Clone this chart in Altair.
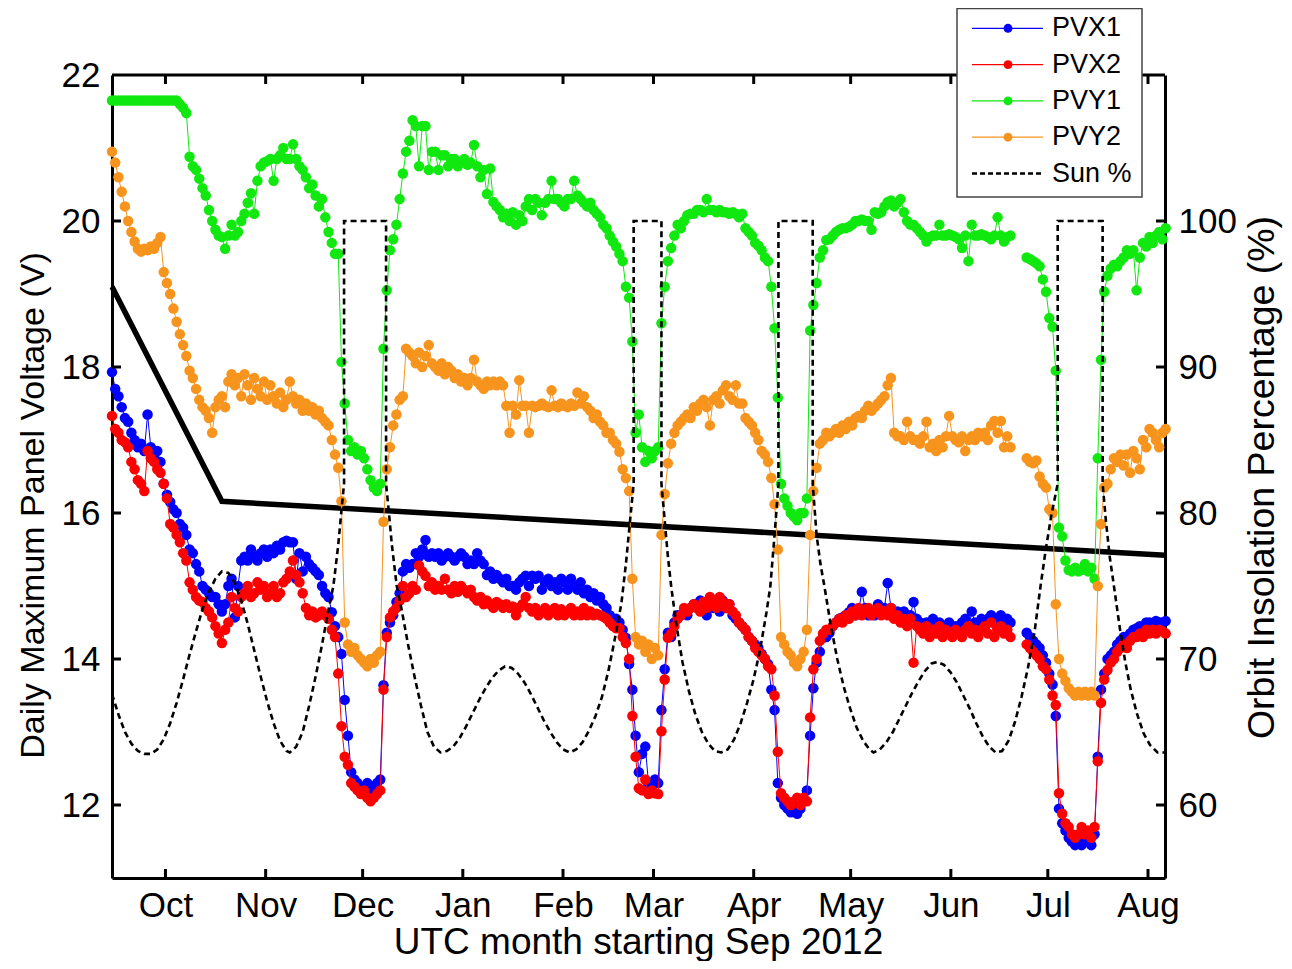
import altair as alt
import pandas as pd
import json

W, H = 1053, 803
FONT = "Liberation Sans"

# ---------------- data ----------------
START = "2012-09-14T11:00:00Z"          # left edge of the time axis (day 0)
END_DAY = 325.8                          # right edge (in days from START)
DAY_MS = 86400000

month_labels = ["Oct", "Nov", "Dec", "Jan", "Feb", "Mar", "Apr", "May", "Jun", "Jul", "Aug"]
month_starts = ["2012-10-01", "2012-11-01", "2012-12-01", "2013-01-01", "2013-02-01", "2013-03-01",
                "2013-04-01", "2013-05-01", "2013-06-01", "2013-07-01", "2013-08-01"]
volt_ticks = [12, 14, 16, 18, 20, 22]
pct_ticks = [60, 70, 80, 90, 100]

# daily maximum panel voltage, one value per day starting at day 0 (None = no data)
pvx1 = [
    17.93, 17.7, 17.6, 17.45, 17.3, 17.25, 17.1, 17.0, 16.9, 16.95,
    16.85, 17.35, 16.9, 16.75, 16.85, 16.7, 16.4, 16.25, 16.15, 16.05,
    16.0, 15.85, 15.8, 15.7, 15.5, 15.45, 15.3, 15.2, 15.0, 14.95,
    14.9, 14.85, 14.85, 14.75, 14.65, 14.75, 15.0, 15.1, 14.57, 15.0,
    15.35, 15.4, 15.35, 15.5, 15.4, 15.35, 15.45, 15.5, 15.4, 15.5,
    15.45, 15.55, 15.5, 15.6, 15.62, 15.6, 15.6, 15.1, 15.45, 15.2,
    15.4, 15.3, 15.25, 15.2, 15.15, 15.0, 14.9, 14.85, 14.64, 14.45,
    14.3, 14.07, 13.44, 12.95, 12.45, 12.35, 12.3, 12.25, 12.2, 12.3,
    12.25, 12.2, 12.3, 12.35, 13.64, 14.36, 14.5, 14.6, 14.78, 14.9,
    15.2, 15.3, 15.25, 15.3, 15.45, 15.4, 15.5, 15.63, 15.4, 15.45,
    15.4, 15.45, 15.35, 15.4, 15.45, 15.4, 15.35, 15.4, 15.45, 15.4,
    15.3, 15.35, 15.3, 15.45, 15.35, 15.3, 15.15, 15.2, 15.1, 15.15,
    15.1, 15.05, 15.1, 15.0, 15.0, 14.95, 15.05, 15.1, 15.14, 15.0,
    15.14, 15.1, 15.14, 14.95, 15.05, 15.1, 15.0, 15.05, 14.95, 15.1,
    15.05, 14.95, 15.1, 15.0, 14.95, 15.05, 14.9, 14.95, 14.85, 14.9,
    14.8, 14.85, 14.75, 14.7, 14.6, 14.55, 14.55, 14.5, 14.4, 14.29,
    13.93, 13.58, 12.95, 12.45, 12.7, 12.8, 12.3, 12.2, 12.35, 12.3,
    13.3, 13.86, 14.36, 14.3, 14.5, 14.6, 14.6, 14.64, 14.6, 14.7,
    14.75, 14.7, 14.8, 14.75, 14.6, 14.8, 14.7, 14.78, 14.65, 14.8,
    14.7, 14.75, 14.6, 14.55, 14.5, 14.45, 14.4, 14.3, 14.25, 14.2,
    14.15, 14.07, 14.0, 13.93, 13.58, 13.3, 12.3, 12.1, 12.0, 11.95,
    11.9, 11.92, 11.88, 11.95, 12.05, 12.2, 12.95, 13.6, 13.95, 14.1,
    14.29, 14.3, 14.36, 14.45, 14.5, 14.55, 14.57, 14.6, 14.64, 14.7,
    14.6, 14.65, 14.92, 14.7, 14.6, 14.65, 14.6, 14.75, 14.65, 14.7,
    15.04, 14.7, 14.6, 14.65, 14.6, 14.65, 14.55, 14.6, 14.78, 14.55,
    14.5, 14.45, 14.5, 14.45, 14.55, 14.45, 14.5, 14.4, 14.45, 14.5,
    14.4, 14.45, 14.45, 14.5, 14.55, 14.4, 14.65, 14.5, 14.45, 14.55,
    14.5, 14.55, 14.6, 14.5, 14.55, 14.6, 14.5, 14.55, 14.5, None,
    None, None, None, 14.36, 14.3, 14.25, 14.2, 14.15, 14.05, 13.95,
    13.8, 13.65, 13.22, 11.95, 11.75, 11.65, 11.55, 11.5, 11.45, 11.5,
    11.45, 11.55, 11.5, 11.45, 11.6, 12.66, 13.58, 13.8, 14.0, 14.05,
    14.1, 14.2, 14.25, 14.3, 14.3, 14.35, 14.4, 14.42, 14.45, 14.45,
    14.5, 14.5, 14.48, 14.52, 14.5, 14.5, 14.52,
]
pvx2 = [
    17.33, 17.15, 17.1, 17.0, 16.97, 16.9, 16.7, 16.6, 16.45, 16.4,
    16.3, 16.85, 16.75, 16.7, 16.6, 16.55, 16.4, 16.2, 15.85, 15.8,
    15.7, 15.6, 15.45, 15.35, 15.05, 14.95, 14.85, 14.8, 14.78, 14.7,
    14.65, 14.57, 14.45, 14.35, 14.22, 14.4, 14.5, 14.85, 14.7, 14.65,
    14.85, 14.9, 15.0, 14.85, 14.9, 15.05, 14.95, 15.0, 14.85, 14.9,
    15.0, 14.85, 14.9, 15.05, 15.1, 15.2, 15.35, 15.15, 15.05, 14.9,
    14.7, 14.6, 14.65, 14.57, 14.6, 14.65, 14.6, 14.55, 14.4, 14.3,
    13.8, 13.08, 12.66, 12.55, 12.3, 12.25, 12.2, 12.15, 12.2, 12.1,
    12.05, 12.1, 12.15, 12.2, 13.58, 14.3, 14.57, 14.65, 14.7, 14.8,
    15.0, 14.85, 14.9, 15.0, 14.95, 15.28, 15.2, 15.14, 15.0, 15.05,
    14.95, 15.0, 14.95, 15.1, 14.95, 14.9, 15.0, 14.92, 15.0, 14.95,
    14.9, 14.95, 14.85, 14.8, 14.85, 14.75, 14.8, 14.75, 14.7, 14.78,
    14.75, 14.7, 14.75, 14.7, 14.72, 14.6, 14.7, 14.75, 14.85, 14.7,
    14.65, 14.7, 14.6, 14.65, 14.7, 14.6, 14.65, 14.7, 14.6, 14.68,
    14.6, 14.65, 14.7, 14.6, 14.65, 14.6, 14.7, 14.6, 14.65, 14.6,
    14.62, 14.6, 14.58, 14.55, 14.5, 14.45, 14.42, 14.42, 14.3, 14.22,
    14.0, 13.22, 12.66, 12.23, 12.2, 12.35, 12.15, 12.2, 12.16, 12.15,
    13.01, 13.72, 14.29, 14.35, 14.45, 14.55, 14.6, 14.7, 14.65, 14.7,
    14.75, 14.7, 14.65, 14.78, 14.7, 14.85, 14.75, 14.7, 14.85, 14.78,
    14.7, 14.75, 14.65, 14.6, 14.5, 14.45, 14.4, 14.3, 14.25, 14.15,
    14.1, 14.05, 14.0, 13.9, 13.86, 13.5, 12.73, 12.16, 12.1, 12.05,
    12.0, 12.05, 12.1, 12.0, 12.1, 12.05, 13.2, 13.86, 14.0, 14.25,
    14.35, 14.4, 14.4, 14.45, 14.5, 14.55, 14.5, 14.6, 14.55, 14.65,
    14.6, 14.7, 14.6, 14.65, 14.7, 14.6, 14.65, 14.7, 14.6, 14.65,
    14.6, 14.7, 14.55, 14.6, 14.5, 14.55, 14.45, 14.55, 13.95, 14.45,
    14.4, 14.35, 14.45, 14.3, 14.4, 14.35, 14.45, 14.3, 14.4, 14.35,
    14.3, 14.4, 14.35, 14.3, 14.4, 14.45, 14.35, 14.4, 14.3, 14.4,
    14.45, 14.35, 14.5, 14.3, 14.4, 14.45, 14.35, 14.4, 14.3, None,
    None, None, None, 14.2, 14.15, 14.1, 14.05, 14.0, 13.9, 13.86,
    13.72, 13.5, 13.37, 12.16, 11.88, 11.75, 11.7, 11.6, 11.55, 11.6,
    11.7, 11.6, 11.65, 11.55, 11.7, 12.6, 13.4, 13.72, 13.85, 13.95,
    14.0, 14.1, 14.15, 14.2, 14.15, 14.25, 14.3, 14.3, 14.35, 14.3,
    14.4, 14.35, 14.4, 14.35, 14.4, 14.38, 14.35,
]
pvy1 = [
    21.65, 21.65, 21.65, 21.65, 21.65, 21.65, 21.65, 21.65, 21.65, 21.65,
    21.65, 21.65, 21.65, 21.65, 21.65, 21.65, 21.65, 21.65, 21.65, 21.65,
    21.65, 21.6, 21.55, 21.48, 20.88, 20.75, 20.7, 20.58, 20.45, 20.35,
    20.15, 20.0, 19.88, 19.8, 19.78, 19.62, 19.8, 19.95, 19.8, 19.85,
    20.0, 20.1, 20.25, 20.38, 20.1, 20.55, 20.75, 20.8, 20.82, 20.85,
    20.55, 20.85, 20.9, 21.0, 20.85, 20.85, 21.05, 20.85, 20.75, 20.7,
    20.6, 20.45, 20.5, 20.35, 20.2, 20.3, 20.05, 19.85, 19.7, 19.55,
    19.55, 18.07, 17.5, 17.0, 16.85, 16.9, 16.8, 16.85, 16.75, 16.6,
    16.45, 16.35, 16.3, 16.4, 18.25, 19.05, 19.6, 19.75, 19.95, 20.3,
    20.65, 20.95, 21.1, 21.38, 21.3, 20.75, 21.3, 21.3, 20.7, 20.95,
    20.95, 20.7, 20.9, 20.9, 20.75, 20.85, 20.85, 20.75, 20.8, 20.85,
    20.77, 20.8, 21.04, 20.75, 20.6, 20.7, 20.37, 20.72, 20.26, 20.2,
    20.15, 20.05, 20.1, 20.0, 20.12, 19.95, 20.08, 20.0, 20.2, 20.3,
    20.15, 20.3, 20.25, 20.08, 20.25, 20.3, 20.55, 20.3, 20.3, 20.25,
    20.2, 20.3, 20.3, 20.55, 20.35, 20.3, 20.25, 20.2, 20.25, 20.15,
    20.1, 20.05, 19.95, 19.9, 19.8, 19.72, 19.65, 19.55, 19.45, 19.1,
    18.95, 18.35, 17.1, 17.35, 16.9, 16.7, 16.85, 16.75, 16.85, 16.9,
    18.6, 19.1, 19.45, 19.63, 19.8, 19.95, 19.9, 20.0, 20.08, 20.1,
    20.1, 20.15, 20.15, 20.12, 20.3, 20.15, 20.15, 20.12, 20.15, 20.12,
    20.12, 20.1, 20.12, 20.1, 20.05, 20.1, 19.9, 19.85, 19.8, 19.7,
    19.66, 19.6, 19.5, 19.45, 19.1, 18.53, 17.58, 16.4, 16.2, 16.1,
    16.0, 15.95, 15.9, 16.0, 16.0, 16.2, 18.5, 18.85, 19.15, 19.5,
    19.6, 19.74, 19.75, 19.8, 19.85, 19.88, 19.9, 19.9, 19.92, 19.95,
    20.0, 20.0, 20.02, 20.0, 20.0, 19.88, 20.12, 20.1, 20.12, 20.2,
    20.26, 20.28, 20.2, 20.25, 20.3, 20.12, 20.0, 19.95, 19.95, 19.9,
    19.85, 19.8, 19.72, 19.78, 19.8, 19.8, 19.95, 19.8, 19.8, 19.82,
    19.8, 19.78, 19.75, 19.63, 19.8, 19.45, 19.95, 19.8, 19.8, 19.82,
    19.8, 19.78, 19.75, 19.8, 20.05, 19.8, 19.72, 19.78, 19.8, None,
    None, None, None, 19.5, 19.48, 19.45, 19.42, 19.38, 19.2, 19.03,
    18.67, 18.55, 17.95, 15.8, 15.68, 15.35, 15.22, 15.2, 15.25, 15.2,
    15.22, 15.3, 15.2, 15.25, 15.1, 16.75, 18.1, 19.03, 19.25, 19.35,
    19.4, 19.38, 19.45, 19.5, 19.6, 19.55, 19.6, 19.05, 19.5, 19.7,
    19.65, 19.78, 19.7, 19.8, 19.85, 19.75, 19.9,
]
pvy2 = [
    20.95, 20.8, 20.6, 20.4, 20.2, 20.0, 19.85, 19.72, 19.62, 19.58,
    19.62, 19.6, 19.65, 19.62, 19.7, 19.78, 19.3, 19.15, 19.0, 18.8,
    18.62, 18.45, 18.3, 18.15, 17.95, 17.85, 17.7, 17.55, 17.45, 17.4,
    17.3, 17.1, 17.45, 17.55, 17.6, 17.45, 17.8, 17.9, 17.75, 17.85,
    17.6, 17.9, 17.75, 17.55, 17.85, 17.7, 17.6, 17.8, 17.55, 17.75,
    17.6, 17.5, 17.65, 17.45, 17.55, 17.8, 17.6, 17.5, 17.55, 17.4,
    17.5, 17.4, 17.45, 17.35, 17.4, 17.3, 17.25, 17.2, 17.0, 16.8,
    16.62, 16.16, 14.5, 14.2, 14.1, 14.15, 14.05, 14.0, 13.95, 13.9,
    14.0, 13.95, 14.05, 14.1, 15.88, 16.6, 16.9, 17.2, 17.35, 17.55,
    17.6, 18.25, 18.2, 18.15, 18.05, 18.2, 18.0, 18.15, 18.3, 18.05,
    18.0, 17.95, 18.05, 17.9, 18.0, 17.95, 17.85, 17.9, 17.8, 17.85,
    17.75, 17.85, 18.1, 17.8, 17.75, 17.7, 17.8, 17.75, 17.8, 17.75,
    17.8, 17.75, 17.47, 17.1, 17.47, 17.35, 17.82, 17.47, 17.47, 17.1,
    17.47, 17.45, 17.47, 17.5, 17.47, 17.45, 17.68, 17.47, 17.45, 17.5,
    17.47, 17.45, 17.5, 17.47, 17.65, 17.5, 17.6, 17.45, 17.4, 17.3,
    17.35, 17.25, 17.2, 17.1, 17.1, 17.0, 16.95, 16.84, 16.6, 16.48,
    16.3, 15.1, 14.3, 14.2, 14.25, 14.1, 14.2, 14.0, 14.15, 14.05,
    15.7, 16.26, 16.68, 16.95, 17.1, 17.2, 17.25, 17.3, 17.35, 17.3,
    17.45, 17.4, 17.5, 17.55, 17.45, 17.2, 17.55, 17.6, 17.5, 17.68,
    17.75, 17.6, 17.55, 17.75, 17.5, 17.5, 17.3, 17.25, 17.2, 17.1,
    17.0, 16.85, 16.8, 16.7, 16.48, 16.12, 15.5, 14.3, 14.2, 14.1,
    14.05, 13.95, 13.9, 14.0, 14.1, 14.4, 15.7, 16.3, 16.62, 16.95,
    17.0, 17.1, 17.05, 17.1, 17.15, 17.1, 17.2, 17.15, 17.25, 17.2,
    17.3, 17.33, 17.3, 17.4, 17.47, 17.4, 17.45, 17.5, 17.55, 17.6,
    17.75, 17.85, 17.1, 17.05, 17.05, 17.0, 17.25, 17.05, 17.0, 17.0,
    16.95, 17.05, 17.25, 16.9, 16.95, 16.85, 17.0, 16.9, 17.05, 17.33,
    17.05, 17.0, 16.97, 17.05, 16.85, 17.0, 17.05, 17.0, 17.1, 17.05,
    17.1, 17.0, 17.2, 17.26, 17.1, 17.26, 16.9, 17.05, 16.9, None,
    None, None, None, 16.75, 16.7, 16.68, 16.72, 16.5, 16.4, 16.35,
    16.05, 16.0, 14.75, 14.0, 13.8, 13.7, 13.6, 13.55, 13.5, 13.55,
    13.5, 13.55, 13.5, 13.55, 13.5, 15.0, 15.85, 16.35, 16.4, 16.6,
    16.75, 16.7, 16.8, 16.65, 16.8, 16.55, 16.85, 16.75, 16.6, 17.0,
    16.9, 17.15, 17.1, 17.0, 16.9, 17.1, 17.15,
]

# orbit insolation percentage (right axis): day offset and value
sun_days = [0, 2, 4, 6, 8, 10, 12, 14, 16, 18, 20, 22, 24, 26, 28, 30, 32, 34, 36, 38, 40, 42, 44, 46, 48,
            50, 52, 54, 55, 57, 59, 61, 63, 65, 67, 68.5, 70, 71, 71.8, 71.8, 84.8, 84.8, 85.6, 86.6,
            88.1, 89.6, 91.6, 93.6, 95.6, 97.6, 99.6, 101.6, 103.6, 105.6, 107.6, 109.6, 111.6, 113.6,
            115.6, 117.6, 119.6, 121.6, 123.6, 125.6, 127.6, 129.6, 131.6, 133.6, 135.6, 137.6, 139.6,
            141.6, 143.6, 145.6, 147.6, 149.6, 151.6, 153.6, 155.6, 157.6, 159, 160.3, 161.4, 161.4,
            170, 170, 171, 172, 173, 174.5, 176.5, 178.5, 180.5, 182.5, 184.5, 186.5, 188.5, 190.5,
            192.5, 194.5, 196.5, 198.5, 200.5, 202.5, 203.7, 205, 206.2, 206.2, 216.8, 216.8, 218,
            219.2, 220.4, 222.4, 224.4, 226.4, 228.4, 230.4, 232.4, 234.4, 235.6, 237.6, 239.6, 241.6,
            243.6, 245.6, 247.6, 249.6, 251.6, 253.6, 255.4, 257.4, 259.4, 261.4, 263.4, 265.4, 267.4,
            269.4, 271.4, 273.4, 275.4, 277.4, 279.4, 281.4, 283.4, 285.4, 287.3, 288.9, 290.6, 292.6,
            292.6, 306.5, 306.5, 307.5, 308.7, 310, 311.7, 313.5, 315.2, 317.2, 319.2, 321.2, 323.5, 325.8]
sun_pct = [67.6, 66.2, 65.0, 64.2, 63.7, 63.5, 63.5, 63.8, 64.5, 65.6, 67.0, 68.6, 70.3, 71.9, 73.4, 74.6,
           75.5, 76.0, 75.9, 75.2, 74.0, 72.4, 70.6, 68.8, 67.1, 65.6, 64.4, 63.7, 63.6, 64.0, 65.0,
           66.8, 68.8, 71.0, 73.4, 75.0, 77.8, 80.2, 82.0, 100, 100, 82.0, 80.2, 77.8,
           75.0, 73.4, 71.0, 68.8, 66.8, 65.0, 64.0, 63.6, 63.7, 64.0, 64.6, 65.4, 66.3, 67.2,
           68.0, 68.7, 69.2, 69.5, 69.4, 69.0, 68.4, 67.6, 66.7, 65.8, 65.0, 64.3, 63.8,
           63.6, 63.8, 64.3, 65.1, 66.1, 67.4, 69.2, 71.4, 73.8, 76.5, 79.5, 82.0, 100,
           100, 82.0, 79.5, 77.0, 75.0, 72.5, 69.8, 67.8, 66.2, 65.0, 64.2, 63.7, 63.6, 63.8,
           64.5, 65.6, 67.0, 68.6, 70.6, 73.2, 75.0, 78.5, 82.0, 100, 100, 82.0, 78.5,
           76.5, 75.0, 72.3, 70.0, 68.1, 66.6, 65.3, 64.4, 63.8, 63.6, 63.8, 64.3, 65.0,
           65.9, 66.8, 67.7, 68.5, 69.2, 69.7, 69.8, 69.6, 69.1, 68.4, 67.5, 66.6, 65.6,
           64.7, 64.0, 63.6, 63.7, 64.4, 65.7, 67.4, 69.4, 71.8, 75.0, 77.5, 79.8, 82.0,
           100, 100, 82.0, 79.5, 77.0, 75.0, 72.3, 69.8, 67.9, 66.2, 64.9, 64.1, 63.6, 63.6]

# thick black reference line (left axis)
thr_days = [0, 34, 325.8]
thr_volt = [19.1, 16.16, 15.42]

series_names = ["PVX1", "PVX2", "PVY1", "PVY2"]
series_values = [pvx1, pvx2, pvy1, pvy2]
series_colors = ["#0000FF", "#FF0000", "#10E810", "#F7941D"]
legend_labels = ["PVX1", "PVX2", "PVY1", "PVY2", "Sun %"]

# ---------------- tables ----------------
for n, v in zip(series_names, series_values):
    assert len(v) == 327, (n, len(v))
assert len(sun_days) == len(sun_pct), (len(sun_days), len(sun_pct))

start_ms = pd.Timestamp(START).value // 10**6
end_ms = start_ms + END_DAY * DAY_MS
month_ms = [pd.Timestamp(s + "T00:00:00Z").value // 10**6 for s in month_starts]


def t_of(day):
    return start_ms + day * DAY_MS


frames = {}
for name, vals in zip(series_names, series_values):
    rows = [{"t": t_of(d), "v": v, "seg": 0 if d < 280 else 1}
            for d, v in enumerate(vals) if v is not None]
    frames[name] = pd.DataFrame(rows)

sun_df = pd.DataFrame({"t": [t_of(d) for d in sun_days], "p": sun_pct, "i": list(range(len(sun_days)))})
thr_df = pd.DataFrame({"t": [t_of(d) for d in thr_days], "v": thr_volt})
month_df = pd.DataFrame({"t": month_ms, "label": month_labels})
vtick_df = pd.DataFrame({"v": volt_ticks[:-1]})
ptick_df = pd.DataFrame({"p": pct_ticks})

label_expr = "%s[indexof(%s, toNumber(datum.value))]" % (json.dumps(month_labels), json.dumps(month_ms))

# ---------------- encodings ----------------
def xenc():
    return alt.X("t:T", scale=alt.Scale(type="utc", domain=[start_ms, end_ms]),
                 axis=alt.Axis(values=month_ms, labelExpr=label_expr, title="UTC month starting Sep 2012",
                               titleX=526, titleY=64, titleAlign="center", titleBaseline="middle",
                               titleFontSize=37, labelPadding=10, labelAngle=0, labelFlush=False,
                               labelOverlap=False))


def vy():
    return alt.Y("v:Q", scale=alt.Scale(domain=[11, 22], nice=False, zero=False),
                 axis=alt.Axis(values=volt_ticks, title="Daily Maximum Panel Voltage (V)",
                               titleX=-79, titleY=430, titleAngle=270, titleAlign="center",
                               titleBaseline="middle", titleFontSize=34, labelPadding=12,
                               labelFlush=False))


def py():
    return alt.Y("p:Q", scale=alt.Scale(domain=[55, 110], nice=False, zero=False),
                 axis=alt.Axis(orient="right", values=pct_ticks, title="Orbit Insolation Percentage (%)",
                               titleX=97, titleY=402, titleAngle=270, titleAlign="center",
                               titleBaseline="middle", titleFontSize=37.5, labelPadding=13,
                               labelFlush=False))


# ---------------- left-axis layers ----------------
volt_layers = [
    alt.Chart(thr_df).mark_line(color="black", strokeWidth=5.5).encode(x=xenc(), y=vy())
]
for name, col in zip(series_names, series_colors):
    base = alt.Chart(frames[name])
    volt_layers.append(base.mark_line(color=col, strokeWidth=1).encode(x=xenc(), y=vy(), detail="seg:N"))
    volt_layers.append(base.mark_circle(color=col, size=110, opacity=1).encode(x=xenc(), y=vy()))

volt_layers.append(alt.Chart(vtick_df).mark_rule(color="black", strokeWidth=3).encode(
    y=vy(), x=alt.value(0), x2=alt.value(9)))
volt_layers.append(alt.Chart(month_df).mark_rule(color="black", strokeWidth=3).encode(
    x=xenc(), y=alt.value(H - 9), y2=alt.value(H)))
volt_layers.append(alt.Chart(month_df).mark_rule(color="black", strokeWidth=3).encode(
    x=xenc(), y=alt.value(0), y2=alt.value(9)))
volt = alt.layer(*volt_layers)

# ---------------- right-axis layers ----------------
sun_line = alt.Chart(sun_df).mark_line(color="black", strokeWidth=2.6, strokeDash=[6, 4]).encode(
    x=xenc(), y=py(), order="i:Q")
ptick = alt.Chart(ptick_df).mark_rule(color="black", strokeWidth=3).encode(
    y=py(), x=alt.value(W - 9), x2=alt.value(W))
pct = alt.layer(sun_line, ptick)

# ---------------- frame top + legend ----------------
leg_df = pd.DataFrame({
    "label": legend_labels,
    "col": series_colors + ["black"],
    "ly": [-46.7 + 36.3 * i for i in range(len(legend_labels))],
})
one = pd.DataFrame({"k": [0]})
top_frame = alt.Chart(one).mark_rule(color="black", strokeWidth=3).encode(
    x=alt.value(0), x2=alt.value(W), y=alt.value(0))
box = alt.Chart(one).mark_rect(fill="white", stroke="#444444", strokeWidth=1.5).encode(
    x=alt.value(845), x2=alt.value(1030), y=alt.value(-66.5), y2=alt.value(122))
ly = alt.Y("ly:Q", scale=None, axis=None)
leg_lines = alt.Chart(leg_df.iloc[:4]).mark_rule(strokeWidth=1.3).encode(
    x=alt.value(860), x2=alt.value(931), y=ly, color=alt.Color("col:N", scale=None, legend=None))
leg_sun = alt.Chart(leg_df.iloc[4:]).mark_rule(strokeWidth=2.5, strokeDash=[5, 3], color="black").encode(
    x=alt.value(860), x2=alt.value(931), y=ly)
leg_dots = alt.Chart(leg_df.iloc[:4]).mark_circle(size=80, opacity=1).encode(
    x=alt.value(896), y=ly, color=alt.Color("col:N", scale=None, legend=None))
leg_text = alt.Chart(leg_df).mark_text(align="left", baseline="middle", fontSize=27, font=FONT,
                                       color="black").encode(x=alt.value(940), y=ly, text="label:N")
legend = alt.layer(top_frame, box, leg_lines, leg_sun, leg_dots, leg_text)

chart = (
    alt.layer(volt, pct, legend)
    .resolve_scale(y="independent")
    .properties(width=W, height=H,
                autosize=alt.AutoSizeParams(type="none"),
                padding={"left": 104, "top": 67, "right": 118, "bottom": 83})
    .configure_view(stroke=None)
    .configure_axis(labelFont=FONT, labelFontSize=35, labelColor="black",
                    titleFont=FONT, titleFontSize=34, titleFontWeight="normal", titleColor="black",
                    domainColor="black", domainWidth=3, ticks=False, tickSize=0, grid=False)
)

chart.save("out.html", embed_options={"renderer": "svg", "actions": False})
